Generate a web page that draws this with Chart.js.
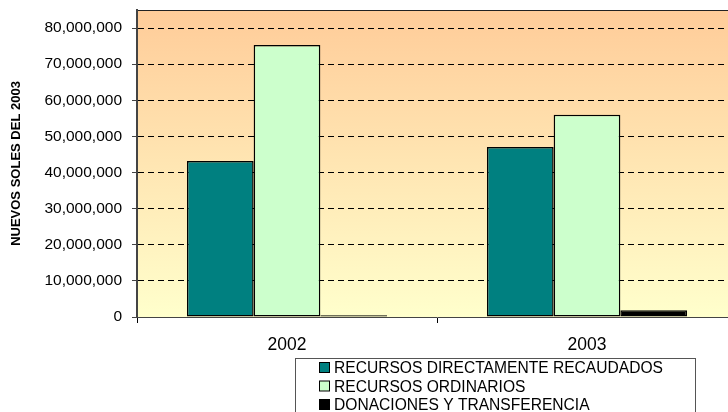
<!DOCTYPE html>
<html>
<head>
<meta charset="utf-8">
<script src="https://cdn.jsdelivr.net/npm/chart.js@4"></script>
<style>
  html, body { margin: 0; padding: 0; background: #fff; overflow: hidden; }
  #wrap { width: 745px; height: 412px; }
</style>
</head>
<body>
<div id="wrap"><canvas id="chart" width="745" height="412"></canvas></div>
<script>
const years = ['2002', '2003'];
const seriesNames = ['RECURSOS DIRECTAMENTE RECAUDADOS', 'RECURSOS ORDINARIOS', 'DONACIONES Y TRANSFERENCIA'];
const recaudados = [43200000, 47100000];
const ordinarios = [75300000, 56000000];
const donaciones = [500000, 1900000];
const seriesColors = ['#008080', '#CCFFCC', '#000000'];
const yTicks = [0, 10000000, 20000000, 30000000, 40000000, 50000000, 60000000, 70000000, 80000000];

const font = 'Arial, "Liberation Sans", sans-serif';

// peach -> pale yellow fill behind the bars, plus the top frame line
const plotBackground = {
    id: 'plotBackground',
    beforeDraw(chart) {
        const { ctx, chartArea: a } = chart;
        const g = ctx.createLinearGradient(0, a.top, 0, a.bottom);
        g.addColorStop(0, '#FFCC99');
        g.addColorStop(1, '#FFFFCC');
        ctx.save();
        ctx.fillStyle = g;
        ctx.fillRect(a.left, a.top, a.right - a.left, a.bottom - a.top);
        ctx.strokeStyle = '#222';
        ctx.lineWidth = 1;
        ctx.beginPath();
        ctx.moveTo(a.left, a.top + 0.5);
        ctx.lineTo(a.right, a.top + 0.5);
        ctx.stroke();
        ctx.restore();
    }
};

// boxed legend, one entry per row
const boxLegend = {
    id: 'boxLegend',
    afterDraw(chart) {
        const ctx = chart.ctx;
        const x0 = 295.5, y0 = 358.5, w = 400, h = 70;
        ctx.save();
        ctx.fillStyle = '#fff';
        ctx.fillRect(x0, y0, w, h);
        ctx.strokeStyle = '#555';
        ctx.lineWidth = 1;
        ctx.strokeRect(x0, y0, w, h);
        ctx.font = '15.6px ' + font;
        ctx.textBaseline = 'middle';
        chart.data.datasets.forEach((ds, i) => {
            const cy = 368 + i * 18.5;
            ctx.fillStyle = ds.backgroundColor;
            ctx.fillRect(319.5, cy - 5.5, 10, 10);
            ctx.strokeStyle = '#000';
            ctx.strokeRect(319.5, cy - 5.5, 10, 10);
            ctx.fillStyle = '#000';
            ctx.fillText(ds.label, 334, cy + 1);
        });
        ctx.restore();
    }
};

const datasets = [recaudados, ordinarios, donaciones].map((vals, i) => ({
    label: seriesNames[i],
    data: vals,
    backgroundColor: seriesColors[i],
    borderColor: '#000',
    borderWidth: 1.5,
    borderSkipped: false,
    categoryPercentage: 0.667,
    barPercentage: 1.0
}));

new Chart(document.getElementById('chart').getContext('2d'), {
    type: 'bar',
    data: { labels: years, datasets: datasets },
    plugins: [plotBackground, boxLegend],
    options: {
        responsive: false,
        animation: false,
        layout: { padding: { left: 0, top: 10, right: 8, bottom: 0 } },
        plugins: {
            legend: { display: false },
            tooltip: { enabled: false }
        },
        scales: {
            x: {
                afterFit: scale => { scale.height = 95; },
                grid: {
                    drawOnChartArea: false,
                    color: '#000',
                    tickLength: 6
                },
                border: { color: '#444', width: 1 },
                ticks: { color: '#000', padding: 12, font: { family: font, size: 17.5 } }
            },
            y: {
                min: 0,
                max: 85000000,
                afterFit: scale => {
                    scale.width = 137;
                    scale.paddingTop = 0;
                    scale.paddingBottom = 0;
                },
                afterBuildTicks: scale => {
                    scale.ticks = yTicks.map(v => ({ value: v }));
                },
                grid: {
                    color: '#000',
                    tickLength: 5,
                    tickColor: '#444',
                    tickBorderDash: []
                },
                border: { color: '#444', width: 2, dash: [6, 4] },
                ticks: {
                    padding: 10,
                    color: '#000',
                    font: { family: font, size: 15.5 },
                    callback: v => v.toLocaleString('en-US')
                },
                title: {
                    display: true,
                    text: 'NUEVOS SOLES DEL 2003',
                    color: '#000',
                    font: { family: font, size: 13, weight: 'bold' },
                    padding: { top: 9, bottom: 0 }
                }
            }
        }
    }
});
</script>
</body>
</html>
